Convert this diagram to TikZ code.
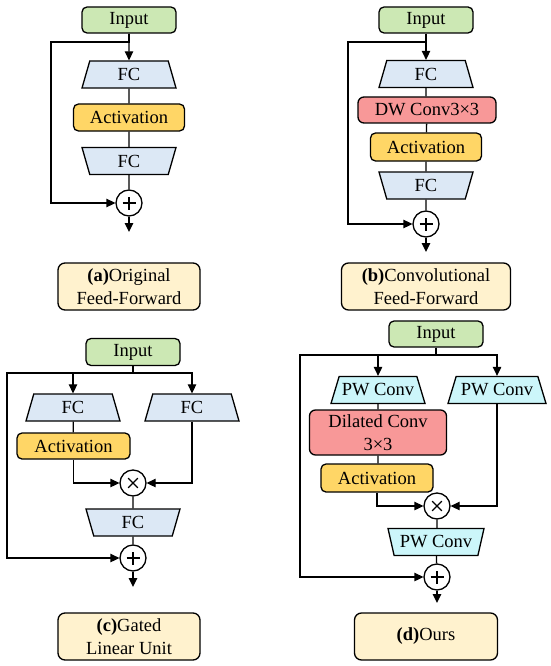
\documentclass[tikz,border=0pt]{standalone}
\usepackage{fontspec}
\setmainfont{Liberation Serif}
\usepackage{tikz}
\usetikzlibrary{shapes.geometric, arrows.meta, positioning}
\definecolor{inputgreen}{RGB}{204,232,180}
\definecolor{fcblue}{RGB}{220,232,245}
\definecolor{actyellow}{RGB}{255,214,102}
\definecolor{convred}{RGB}{248,152,152}
\definecolor{pwcyan}{RGB}{204,246,250}
\definecolor{capcream}{RGB}{255,242,206}

\begin{document}
\begin{tikzpicture}[
    x=1pt, y=-1pt,
    every node/.style={font=\fontsize{18.5}{23}\selectfont},
    inbox/.style={rectangle, draw, rounded corners=5pt, fill=inputgreen, minimum width=94pt, minimum height=26pt, inner sep=0pt, line width=1.3pt},
    actbox/.style={rectangle, draw, rounded corners=5pt, fill=actyellow, minimum width=111pt, minimum height=27pt, inner sep=0pt, line width=1.3pt},
    convbox/.style={rectangle, draw, rounded corners=6pt, fill=convred, minimum height=26pt, inner sep=0pt, align=center, line width=1.3pt},
    fcup/.style={trapezium, trapezium angle=58, trapezium stretches body, draw, fill=fcblue, minimum width=94pt, minimum height=27pt, inner sep=0pt, line width=1.3pt},
    fcdown/.style={fcup, shape border rotate=180},
    pwup/.style={fcup, fill=pwcyan, trapezium angle=57},
    pwdown/.style={pwup, shape border rotate=180, trapezium angle=64},
    opcirc/.style={circle, draw, fill=white, minimum size=26pt, inner sep=0pt, line width=1.3pt},
    plussign/.style={opcirc, path picture={
        \draw[line width=1.3pt] ([xshift=-6.5pt]path picture bounding box.center) -- ([xshift=6.5pt]path picture bounding box.center)
                                ([yshift=-6.5pt]path picture bounding box.center) -- ([yshift=6.5pt]path picture bounding box.center);}},
    timessign/.style={opcirc, path picture={
        \draw[line width=1.3pt] ([shift={(-4.8pt,-4.8pt)}]path picture bounding box.center) -- ([shift={(4.8pt,4.8pt)}]path picture bounding box.center)
                                ([shift={(-4.8pt,4.8pt)}]path picture bounding box.center) -- ([shift={(4.8pt,-4.8pt)}]path picture bounding box.center);}},
    capbox/.style={rectangle, draw, rounded corners=7pt, fill=capcream, minimum height=47pt, inner sep=0pt, align=center, line width=1.3pt},
    link/.style={line width=1.3pt},
    arrow/.style={-{Triangle[length=9pt,width=8.5pt]}, line width=1.3pt},
]
\useasboundingbox (0,0) rectangle (550,666);

% (a) original feed-forward
\node[inbox] (inA) at (129,20) {Input};
\node[fcup] (fcA1) at (129,74.5) {FC};
\node[actbox] (actA) at (129,117.5) {Activation};
\node[fcdown] (fcA2) at (129,161) {FC};
\node[plussign] (plusA) at (129,203) {};
\coordinate (skipA) at (51,42);
\coordinate (outA) at (129,232);
\node[capbox, minimum width=142pt] (capA) at (129,286.5) {\textbf{(a)}Original\\Feed-Forward};

\draw[arrow] (inA) -- (fcA1);
\draw[link] (fcA1) -- (actA) (actA) -- (fcA2) (fcA2) -- (plusA);
\draw[arrow] (inA.south) |- (skipA) |- (plusA);
\draw[arrow] (plusA) -- (outA);

% (b) convolutional feed-forward
\node[inbox] (inB) at (426,20) {Input};
\node[fcup] (fcB1) at (426,74) {FC};
\node[convbox, minimum width=138pt] (dwB) at (427,110) {DW Conv3×3};
\node[actbox, minimum height=28pt] (actB) at (426,147) {Activation};
\node[fcdown] (fcB2) at (426,185.5) {FC};
\node[plussign] (plusB) at (426,224) {};
\coordinate (skipB) at (348,42);
\coordinate (outB) at (426,252);
\node[capbox, minimum width=169pt] (capB) at (426,286.5) {\textbf{(b)}Convolutional\\Feed-Forward};

\draw[arrow] (inB) -- (fcB1);
\draw[link] (fcB1) -- (fcB1 |- dwB.north) (dwB) -- (actB) (actB) -- (fcB2) (fcB2) -- (plusB);
\draw[arrow] (inB.south) |- (skipB) |- (plusB);
\draw[arrow] (plusB) -- (outB);

% (c) gated linear unit
\node[inbox, minimum height=27pt] (inC) at (133,352) {Input};
\node[fcup] (fcC1) at (73,407.5) {FC};
\node[fcup] (fcC2) at (192,407.5) {FC};
\node[actbox, minimum width=113pt, minimum height=26pt] (actC) at (73.5,446) {Activation};
\node[timessign] (timesC) at (133,483) {};
\node[fcdown] (fcC3) at (133,522.5) {FC};
\node[plussign] (plusC) at (133,558) {};
\coordinate (skipC) at (7,373);
\coordinate (outC) at (133,587);
\node[capbox, minimum width=142pt] (capC) at (129,636.5) {\textbf{(c)}Gated\\Linear Unit};

\draw[arrow] (inC.south) |- (fcC1.north |- skipC) -- (fcC1.north);
\draw[arrow] (inC.south) |- (fcC2.north |- skipC) -- (fcC2.north);
\draw[link] (fcC1) -- (actC);
\draw[arrow] (actC) |- (timesC);
\draw[arrow] (fcC2) |- (timesC);
\draw[link] (timesC) -- (fcC3) (fcC3) -- (plusC);
\draw[arrow] (inC.south) |- (skipC) |- (plusC);
\draw[arrow] (plusC) -- (outC);

% (d) ours
\node[inbox] (inD) at (436,334) {Input};
\node[pwup] (pwD1) at (378,390) {PW Conv};
\node[pwup, minimum width=98pt] (pwD2) at (497,390) {PW Conv};
\node[convbox, minimum width=137pt, minimum height=45pt] (dilD) at (378,432.5) {Dilated Conv\\3×3};
\node[actbox, minimum width=112pt, minimum height=28pt] (actD) at (377,478) {Activation};
\node[timessign] (timesD) at (437,506) {};
\node[pwdown, minimum width=96pt] (pwD3) at (436,542) {PW Conv};
\node[plussign] (plusD) at (437,577) {};
\coordinate (skipD) at (300,355);
\coordinate (outD) at (437,603);
\node[capbox, minimum width=143pt] (capD) at (426,636.5) {\textbf{(d)}Ours};

\draw[arrow] (inD.south) |- (pwD1.north |- skipD) -- (pwD1.north);
\draw[arrow] (inD.south) |- (pwD2.north |- skipD) -- (pwD2.north);
\draw[link] (pwD1) -- (dilD) (dilD) -- (dilD.south |- actD.north);
\draw[arrow] (actD) |- (timesD);
\draw[arrow] (pwD2) |- (timesD);
\draw[link] (timesD) -- (timesD |- pwD3.north) (pwD3) -- (plusD);
\draw[arrow] (inD.south) |- (skipD) |- (plusD);
\draw[arrow] (plusD) -- (outD);

\end{tikzpicture}
\end{document}
